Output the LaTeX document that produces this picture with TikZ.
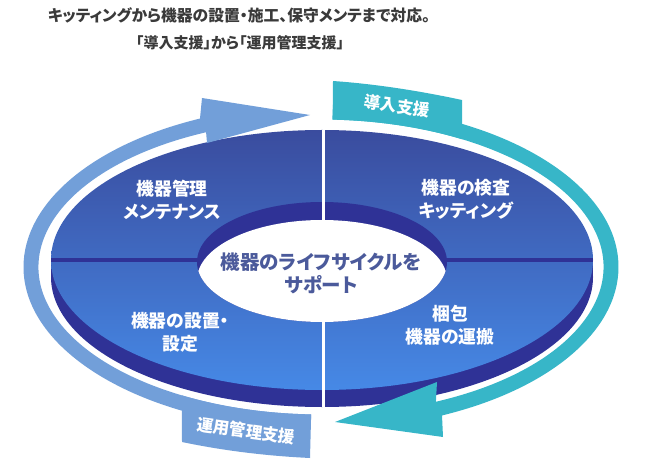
\documentclass[tikz,border=0pt]{standalone}
\usepackage{fontspec}
\setmainfont{Noto Sans CJK JP}[RawFeature=+palt]
\usetikzlibrary{positioning}
\definecolor{ctitle}{HTML}{3A3A3A}
\definecolor{ctop}{HTML}{3A4C9E}
\definecolor{cbot}{HTML}{4689E6}
\definecolor{cside}{HTML}{2F3296}
\definecolor{cring}{HTML}{729FD9}
\definecolor{cteal}{HTML}{37B6C8}
\definecolor{ccore}{HTML}{4B5A9B}

\begin{document}
\begin{tikzpicture}[x=1pt,y=1pt,every node/.style={align=center,inner sep=0pt},ttl/.style={text=ctitle,font=\bfseries\fontsize{15.8}{19}\selectfont},seg/.style={text=white,font=\bfseries\fontsize{17.8}{23}\selectfont},tag/.style={text=white,font=\bfseries\fontsize{16.5}{20}\selectfont,rotate=-8},core/.style={text=ccore,font=\bfseries\fontsize{19.5}{23}\selectfont}]
\useasboundingbox (0,0) rectangle (650,-470);
\node[ttl] (t1) at (239,-15) {キッティングから機器の設置・施工、保守メンテまで対応。};
\node[ttl,font=\bfseries\fontsize{15}{19}\selectfont] (t2) at (240,-43) {「導入支援」から「運用管理支援」};
% disk
\fill[cside] (51,-260) rectangle (593,-277);
\fill[cside] (322,-277) ellipse[x radius=271,y radius=130];
\shade[top color=ctop,bottom color=cbot] (322,-260) ellipse[x radius=271,y radius=130];
\draw[cside,line width=4pt] (51,-260) -- (593,-260);
\fill[cside] (322,-262) ellipse[x radius=125,y radius=60];
\begin{scope}
\clip (322,-262) ellipse[x radius=125,y radius=60];
\fill[white] (322,-280) ellipse[x radius=125,y radius=60];
\end{scope}
\draw[white,line width=3pt] (323,-130) -- (323,-407);
% rings
\begin{scope}[shift={(321,-267)}]
\fill[cring] (268:297.5 and 162.5) arc[start angle=268,end angle=114,x radius=297.5,y radius=162.5]
  -- (-119,169) -- (-11,152) -- (-114,124) -- (114:282.5 and 147.5)
  arc[start angle=114,end angle=268,x radius=282.5,y radius=147.5] -- cycle;
\fill[cring] (240.5:282.5 and 147.5) -- (-139,-175) .. controls (-96,-184) and (-53,-189) .. (-11,-191)
  -- (268:282.5 and 147.5) arc[start angle=268,end angle=240.5,x radius=282.5,y radius=147.5] -- cycle;
\fill[cteal] (87.7:297.5 and 162.5) arc[start angle=87.7,end angle=-66,x radius=297.5,y radius=162.5]
  -- (122,-170) -- (14,-155) -- (116,-115) -- (-66:282.5 and 147.5)
  arc[start angle=-66,end angle=87.7,x radius=282.5,y radius=147.5] -- cycle;
\fill[cteal] (87.6:282.5 and 147.5) -- (12,186) .. controls (55,183) and (99,176) .. (141,167)
  -- (60:282.5 and 147.5) arc[start angle=60,end angle=87.6,x radius=282.5,y radius=147.5] -- cycle;
\end{scope}
% labels
\node[tag] (intro) at (397,-106) {導入支援};
\node[tag] (ops) at (246,-431) {運用管理支援};
\node[seg] (maint) at (172,-200) {機器管理\\メンテナンス};
\node[seg] (kit) at (466,-199) {機器の検査\\キッティング};
\node[seg] (setup) at (180,-332) {機器の設置・\\設定};
\node[seg] (pack) at (450,-325) {梱包\\機器の運搬};
\node[core] (life) at (321,-273) {機器のライフサイクルを\\サポート};
\end{tikzpicture}
\end{document}
